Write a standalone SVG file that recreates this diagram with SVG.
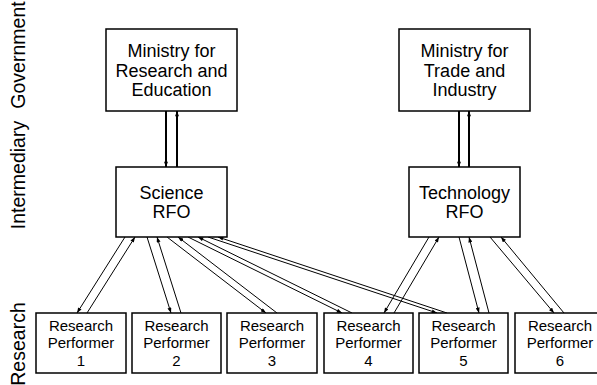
<svg xmlns="http://www.w3.org/2000/svg" width="597" height="385" viewBox="0 0 597 385">
  <style>
    .box { fill: #ffffff; stroke: #000000; stroke-width: 1.5; }
    .big { font-family: "Liberation Sans", Arial, sans-serif; font-size: 18px; fill: #000000; text-anchor: middle; }
    .small { font-family: "Liberation Sans", Arial, sans-serif; font-size: 15px; fill: #000000; text-anchor: middle; }
    .side { font-family: "Liberation Sans", Arial, sans-serif; font-size: 19.5px; fill: #000000; text-anchor: middle; }
    .thick { stroke: #000000; stroke-width: 2; fill: none; marker-end: url(#head); }
    .thin { stroke: #000000; stroke-width: 1; fill: none; marker-end: url(#head); }
  </style>
  <defs>
    <marker id="head" viewBox="0 0 8 6" refX="8" refY="3" markerWidth="6" markerHeight="4" markerUnits="userSpaceOnUse" orient="auto">
      <path d="M0,0 L8,3 L0,6 Z" fill="#000000"/>
    </marker>
  </defs>

  <rect width="597" height="385" fill="#ffffff"/>

  <!-- tier labels -->
  <g id="tier-labels">
    <text class="side" transform="translate(25,55) rotate(-90)">Government</text>
    <text class="side" transform="translate(25,175) rotate(-90)">Intermediary</text>
    <text class="side" transform="translate(25,344) rotate(-90)">Research</text>
  </g>

  <!-- connectors -->
  <g id="connectors">
    <!-- ministries and their funding organisations -->
    <line class="thick" x1="166" y1="111" x2="166" y2="167"/>
    <line class="thick" x1="177" y1="167" x2="177" y2="111"/>
    <line class="thick" x1="459" y1="111" x2="459" y2="167"/>
    <line class="thick" x1="469" y1="167" x2="469" y2="111"/>

    <!-- Science RFO and performers -->
    <line class="thin" x1="125" y1="237" x2="77" y2="313"/>
    <line class="thin" x1="87" y1="313" x2="135" y2="237"/>
    <line class="thin" x1="147" y1="237" x2="171" y2="313"/>
    <line class="thin" x1="181" y1="313" x2="157" y2="237"/>
    <line class="thin" x1="167" y1="237" x2="266" y2="313"/>
    <line class="thin" x1="277" y1="313" x2="178" y2="237"/>
    <line class="thin" x1="188" y1="237" x2="342" y2="313"/>
    <line class="thin" x1="352" y1="313" x2="198" y2="237"/>
    <line class="thin" x1="208" y1="237" x2="437" y2="313"/>
    <line class="thin" x1="447" y1="313" x2="218" y2="237"/>

    <!-- Technology RFO and performers -->
    <line class="thin" x1="429" y1="237" x2="384" y2="313"/>
    <line class="thin" x1="394" y1="313" x2="439" y2="237"/>
    <line class="thin" x1="459" y1="237" x2="479" y2="313"/>
    <line class="thin" x1="489" y1="313" x2="469" y2="237"/>
    <line class="thin" x1="490" y1="237" x2="554" y2="313"/>
    <line class="thin" x1="564" y1="313" x2="501" y2="237"/>
  </g>

  <!-- government tier -->
  <g id="ministry-research-education">
    <rect class="box" x="106" y="29" width="131" height="82"/>
    <text class="big" x="171.5" y="57">Ministry for</text>
    <text class="big" x="171.5" y="76.5">Research and</text>
    <text class="big" x="171.5" y="96">Education</text>
  </g>
  <g id="ministry-trade-industry">
    <rect class="box" x="399" y="29" width="131" height="82"/>
    <text class="big" x="464.5" y="57">Ministry for</text>
    <text class="big" x="464.5" y="76.5">Trade and</text>
    <text class="big" x="464.5" y="96">Industry</text>
  </g>

  <!-- intermediary tier -->
  <g id="science-rfo">
    <rect class="box" x="116" y="167" width="111" height="70"/>
    <text class="big" x="171.5" y="198.5">Science</text>
    <text class="big" x="171.5" y="217.5">RFO</text>
  </g>
  <g id="technology-rfo">
    <rect class="box" x="409" y="167" width="111" height="70"/>
    <text class="big" x="464.5" y="198.5">Technology</text>
    <text class="big" x="464.5" y="217.5">RFO</text>
  </g>

  <!-- research tier -->
  <g id="performer-1">
    <rect class="box" x="36" y="313" width="90" height="60"/>
    <text class="small" x="81" y="330.5">Research</text>
    <text class="small" x="81" y="348">Performer</text>
    <text class="small" x="81" y="365.5">1</text>
  </g>
  <g id="performer-2">
    <rect class="box" x="132" y="313" width="89" height="60"/>
    <text class="small" x="176.5" y="330.5">Research</text>
    <text class="small" x="176.5" y="348">Performer</text>
    <text class="small" x="176.5" y="365.5">2</text>
  </g>
  <g id="performer-3">
    <rect class="box" x="227" y="313" width="90" height="60"/>
    <text class="small" x="272" y="330.5">Research</text>
    <text class="small" x="272" y="348">Performer</text>
    <text class="small" x="272" y="365.5">3</text>
  </g>
  <g id="performer-4">
    <rect class="box" x="324" y="313" width="89" height="60"/>
    <text class="small" x="368.5" y="330.5">Research</text>
    <text class="small" x="368.5" y="348">Performer</text>
    <text class="small" x="368.5" y="365.5">4</text>
  </g>
  <g id="performer-5">
    <rect class="box" x="419" y="313" width="89" height="60"/>
    <text class="small" x="463.5" y="330.5">Research</text>
    <text class="small" x="463.5" y="348">Performer</text>
    <text class="small" x="463.5" y="365.5">5</text>
  </g>
  <g id="performer-6">
    <rect class="box" x="515" y="313" width="90" height="60"/>
    <text class="small" x="560" y="330.5">Research</text>
    <text class="small" x="560" y="348">Performer</text>
    <text class="small" x="560" y="365.5">6</text>
  </g>
</svg>
